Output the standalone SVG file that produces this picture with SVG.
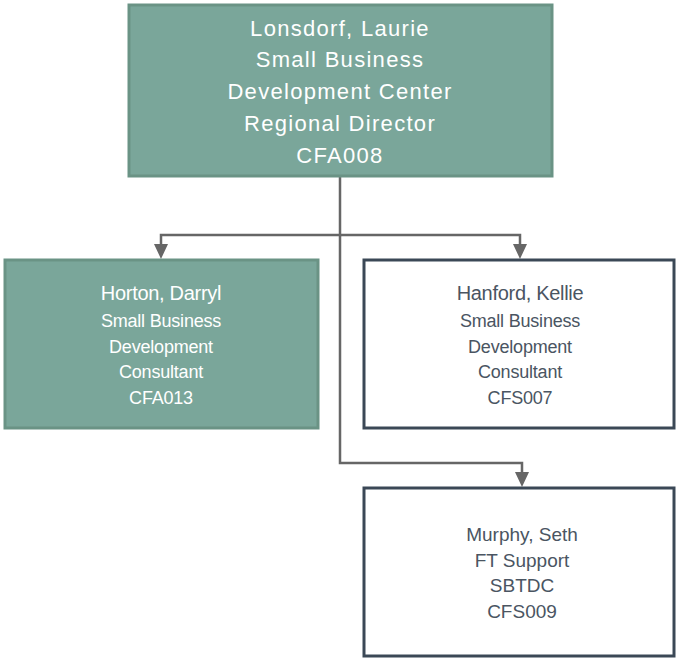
<svg xmlns="http://www.w3.org/2000/svg" width="677" height="658" viewBox="0 0 677 658">
<defs>
<style>
.teal{fill:#7aa69a;stroke:#6a9385;stroke-width:3}
.white{fill:#ffffff;stroke:#3b4856;stroke-width:3}
.tw{fill:#ffffff;font-family:"Liberation Sans",Arial,sans-serif;text-anchor:middle}
.td{fill:#4a5562;font-family:"Liberation Sans",Arial,sans-serif;text-anchor:middle}
.top{font-size:22px;letter-spacing:1.3px}
.n1{font-size:20px;letter-spacing:-0.3px}
.n2{font-size:18px;letter-spacing:-0.2px}
.b{font-size:19px}
.conn{fill:none;stroke:#666666;stroke-width:2.5}
.ah{fill:#666666}
</style>
</defs>
<g id="connectors">
<path class="conn" d="M340,177 V235 H161 V246"/>
<path class="conn" d="M340,235 H520 V246"/>
<path class="conn" d="M340,235 V463 H522 V474"/>
<polygon class="ah" points="154,244 168,244 161,259"/>
<polygon class="ah" points="513,244 527,244 520,259"/>
<polygon class="ah" points="515,472 529,472 522,487"/>
</g>
<g id="node-lonsdorf">
<rect class="teal" x="129" y="5" width="423" height="171"/>
<text class="tw top" x="340" y="36">Lonsdorf, Laurie</text>
<text class="tw top" x="340" y="67">Small Business</text>
<text class="tw top" x="340" y="99">Development Center</text>
<text class="tw top" x="340" y="131">Regional Director</text>
<text class="tw top" x="340" y="163">CFA008</text>
</g>
<g id="node-horton">
<rect class="teal" x="5" y="260" width="313" height="168"/>
<text class="tw n1" x="161" y="300">Horton, Darryl</text>
<text class="tw n2" x="161" y="327">Small Business</text>
<text class="tw n2" x="161" y="353">Development</text>
<text class="tw n2" x="161" y="378">Consultant</text>
<text class="tw n2" x="161" y="404">CFA013</text>
</g>
<g id="node-hanford">
<rect class="white" x="364" y="260" width="310" height="168"/>
<text class="td n1" x="520" y="300">Hanford, Kellie</text>
<text class="td n2" x="520" y="327">Small Business</text>
<text class="td n2" x="520" y="353">Development</text>
<text class="td n2" x="520" y="378">Consultant</text>
<text class="td n2" x="520" y="404">CFS007</text>
</g>
<g id="node-murphy">
<rect class="white" x="364" y="488" width="310" height="168"/>
<text class="td b" x="522" y="541">Murphy, Seth</text>
<text class="td b" x="522" y="567">FT Support</text>
<text class="td b" x="522" y="592">SBTDC</text>
<text class="td b" x="522" y="618">CFS009</text>
</g>
</svg>
